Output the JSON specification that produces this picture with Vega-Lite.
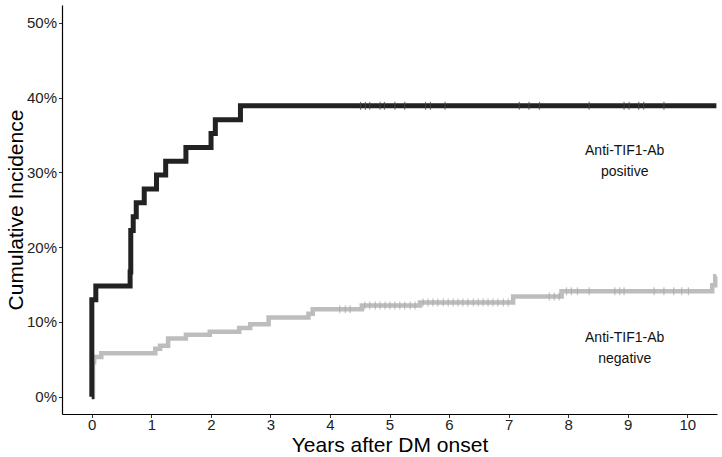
{
  "$schema": "https://vega.github.io/schema/vega-lite/v6.json",
  "width": 655,
  "height": 409,
  "autosize": {"type": "none"},
  "padding": {"left": 62, "top": 5, "right": 5, "bottom": 43},
  "background": "white",
  "config": {
    "view": {"stroke": null},
    "font": "Liberation Sans",
    "axis": {
      "grid": false,
      "domainColor": "#000000",
      "domainWidth": 1.2,
      "tickColor": "#333333",
      "tickSize": 3.5,
      "labelColor": "#222222",
      "labelFont": "Liberation Sans",
      "labelFontSize": 15,
      "titleFont": "Liberation Sans",
      "titleFontSize": 21,
      "titleFontWeight": "normal",
      "titleColor": "#000000"
    }
  },
  "datasets": {
    "curves": [
      {"group": "negative", "t": 0, "ci": 0},
      {"group": "negative", "t": 0.02, "ci": 0.046},
      {"group": "negative", "t": 0.04, "ci": 0.053},
      {"group": "negative", "t": 0.16, "ci": 0.058},
      {"group": "negative", "t": 1.066, "ci": 0.064},
      {"group": "negative", "t": 1.148, "ci": 0.068},
      {"group": "negative", "t": 1.282, "ci": 0.078},
      {"group": "negative", "t": 1.581, "ci": 0.083},
      {"group": "negative", "t": 1.982, "ci": 0.087},
      {"group": "negative", "t": 2.476, "ci": 0.092},
      {"group": "negative", "t": 2.661, "ci": 0.097},
      {"group": "negative", "t": 2.97, "ci": 0.106},
      {"group": "negative", "t": 3.639, "ci": 0.111},
      {"group": "negative", "t": 3.711, "ci": 0.117},
      {"group": "negative", "t": 4.535, "ci": 0.122},
      {"group": "negative", "t": 5.512, "ci": 0.126},
      {"group": "negative", "t": 7.077, "ci": 0.134},
      {"group": "negative", "t": 7.89, "ci": 0.141},
      {"group": "negative", "t": 10.42, "ci": 0.149},
      {"group": "negative", "t": 10.47, "ci": 0.161},
      {"group": "negative", "t": 10.49, "ci": 0.161},
      {"group": "positive", "t": 0, "ci": 0},
      {"group": "positive", "t": 0.001, "ci": 0.1296},
      {"group": "positive", "t": 0.068, "ci": 0.1481},
      {"group": "positive", "t": 0.644, "ci": 0.1667},
      {"group": "positive", "t": 0.655, "ci": 0.2222},
      {"group": "positive", "t": 0.696, "ci": 0.2407},
      {"group": "positive", "t": 0.747, "ci": 0.2593},
      {"group": "positive", "t": 0.881, "ci": 0.2778},
      {"group": "positive", "t": 1.087, "ci": 0.2963},
      {"group": "positive", "t": 1.241, "ci": 0.3148},
      {"group": "positive", "t": 1.581, "ci": 0.3333},
      {"group": "positive", "t": 2.003, "ci": 0.3519},
      {"group": "positive", "t": 2.075, "ci": 0.3704},
      {"group": "positive", "t": 2.497, "ci": 0.3889},
      {"group": "positive", "t": 10.49, "ci": 0.3889}
    ],
    "censors": [
      {"group": "negative", "t": 4.164, "ci": 0.117},
      {"group": "negative", "t": 4.257, "ci": 0.117},
      {"group": "negative", "t": 4.339, "ci": 0.117},
      {"group": "negative", "t": 4.586, "ci": 0.122},
      {"group": "negative", "t": 4.668, "ci": 0.122},
      {"group": "negative", "t": 4.761, "ci": 0.122},
      {"group": "negative", "t": 4.843, "ci": 0.122},
      {"group": "negative", "t": 4.926, "ci": 0.122},
      {"group": "negative", "t": 5.008, "ci": 0.122},
      {"group": "negative", "t": 5.09, "ci": 0.122},
      {"group": "negative", "t": 5.173, "ci": 0.122},
      {"group": "negative", "t": 5.255, "ci": 0.122},
      {"group": "negative", "t": 5.348, "ci": 0.122},
      {"group": "negative", "t": 5.43, "ci": 0.122},
      {"group": "negative", "t": 5.564, "ci": 0.126},
      {"group": "negative", "t": 5.646, "ci": 0.126},
      {"group": "negative", "t": 5.728, "ci": 0.126},
      {"group": "negative", "t": 5.811, "ci": 0.126},
      {"group": "negative", "t": 5.903, "ci": 0.126},
      {"group": "negative", "t": 5.986, "ci": 0.126},
      {"group": "negative", "t": 6.068, "ci": 0.126},
      {"group": "negative", "t": 6.15, "ci": 0.126},
      {"group": "negative", "t": 6.233, "ci": 0.126},
      {"group": "negative", "t": 6.315, "ci": 0.126},
      {"group": "negative", "t": 6.408, "ci": 0.126},
      {"group": "negative", "t": 6.49, "ci": 0.126},
      {"group": "negative", "t": 6.572, "ci": 0.126},
      {"group": "negative", "t": 6.655, "ci": 0.126},
      {"group": "negative", "t": 6.737, "ci": 0.126},
      {"group": "negative", "t": 6.819, "ci": 0.126},
      {"group": "negative", "t": 6.912, "ci": 0.126},
      {"group": "negative", "t": 6.994, "ci": 0.126},
      {"group": "negative", "t": 7.684, "ci": 0.134},
      {"group": "negative", "t": 7.766, "ci": 0.134},
      {"group": "negative", "t": 7.849, "ci": 0.134},
      {"group": "negative", "t": 7.972, "ci": 0.141},
      {"group": "negative", "t": 8.054, "ci": 0.141},
      {"group": "negative", "t": 8.157, "ci": 0.141},
      {"group": "negative", "t": 8.353, "ci": 0.141},
      {"group": "negative", "t": 8.785, "ci": 0.141},
      {"group": "negative", "t": 8.867, "ci": 0.141},
      {"group": "negative", "t": 8.939, "ci": 0.141},
      {"group": "negative", "t": 9.444, "ci": 0.141},
      {"group": "negative", "t": 9.609, "ci": 0.141},
      {"group": "negative", "t": 9.773, "ci": 0.141},
      {"group": "negative", "t": 9.907, "ci": 0.141},
      {"group": "negative", "t": 10.02, "ci": 0.141},
      {"group": "positive", "t": 4.514, "ci": 0.3889},
      {"group": "positive", "t": 4.596, "ci": 0.3889},
      {"group": "positive", "t": 4.668, "ci": 0.3889},
      {"group": "positive", "t": 4.843, "ci": 0.3889},
      {"group": "positive", "t": 4.915, "ci": 0.3889},
      {"group": "positive", "t": 5.09, "ci": 0.3889},
      {"group": "positive", "t": 5.255, "ci": 0.3889},
      {"group": "positive", "t": 5.605, "ci": 0.3889},
      {"group": "positive", "t": 5.687, "ci": 0.3889},
      {"group": "positive", "t": 5.934, "ci": 0.3889},
      {"group": "positive", "t": 7.18, "ci": 0.3889},
      {"group": "positive", "t": 7.344, "ci": 0.3889},
      {"group": "positive", "t": 7.519, "ci": 0.3889},
      {"group": "positive", "t": 8.353, "ci": 0.3889},
      {"group": "positive", "t": 8.939, "ci": 0.3889},
      {"group": "positive", "t": 9.022, "ci": 0.3889},
      {"group": "positive", "t": 9.186, "ci": 0.3889},
      {"group": "positive", "t": 9.269, "ci": 0.3889},
      {"group": "positive", "t": 9.609, "ci": 0.3889}
    ],
    "labels": [
      {"group": "positive", "t": 8.95, "ci": 0.328, "label": ["Anti-TIF1-Ab", "positive"]},
      {"group": "negative", "t": 8.95, "ci": 0.078, "label": ["Anti-TIF1-Ab", "negative"]}
    ]
  },
  "encoding": {
    "x": {
      "field": "t",
      "type": "quantitative",
      "scale": {"domain": [-0.5, 10.5], "nice": false, "zero": false},
      "axis": {"values": [0, 1, 2, 3, 4, 5, 6, 7, 8, 9, 10], "title": "Years after DM onset", "labelPadding": 0, "titleX": 327.5, "titleY": 31, "titleBaseline": "middle", "titleAnchor": "middle"}
    },
    "y": {
      "field": "ci",
      "type": "quantitative",
      "scale": {"domain": [-0.0231, 0.5237], "nice": false, "zero": false},
      "axis": {"values": [0, 0.1, 0.2, 0.3, 0.4, 0.5], "format": ".0%", "title": "Cumulative Incidence", "labelPadding": 2, "titleX": -46, "titleY": 204.5, "titleBaseline": "middle", "titleAnchor": "middle"}
    }
  },
  "layer": [
    {
      "data": {"name": "curves"},
      "transform": [{"filter": "datum.group === 'negative'"}],
      "mark": {"type": "line", "interpolate": "step-after", "color": "#bdbdbd", "strokeWidth": 4.5, "strokeCap": "butt"}
    },
    {
      "data": {"name": "censors"},
      "transform": [{"filter": "datum.group === 'negative'"}],
      "mark": {"type": "tick", "orient": "vertical", "color": "#a8a8a8", "size": 8, "thickness": 1.2}
    },
    {
      "data": {"name": "curves"},
      "transform": [{"filter": "datum.group === 'positive'"}],
      "mark": {"type": "line", "interpolate": "step-after", "color": "#222222", "strokeWidth": 5, "strokeCap": "butt"}
    },
    {
      "data": {"name": "censors"},
      "transform": [{"filter": "datum.group === 'positive'"}],
      "mark": {"type": "tick", "orient": "vertical", "color": "#444444", "size": 8, "thickness": 1.2}
    },
    {
      "data": {"name": "labels"},
      "mark": {"type": "text", "font": "Liberation Sans", "fontSize": 14, "color": "#111111", "align": "center", "baseline": "middle", "lineHeight": 21},
      "encoding": {"text": {"field": "label"}}
    }
  ]
}
